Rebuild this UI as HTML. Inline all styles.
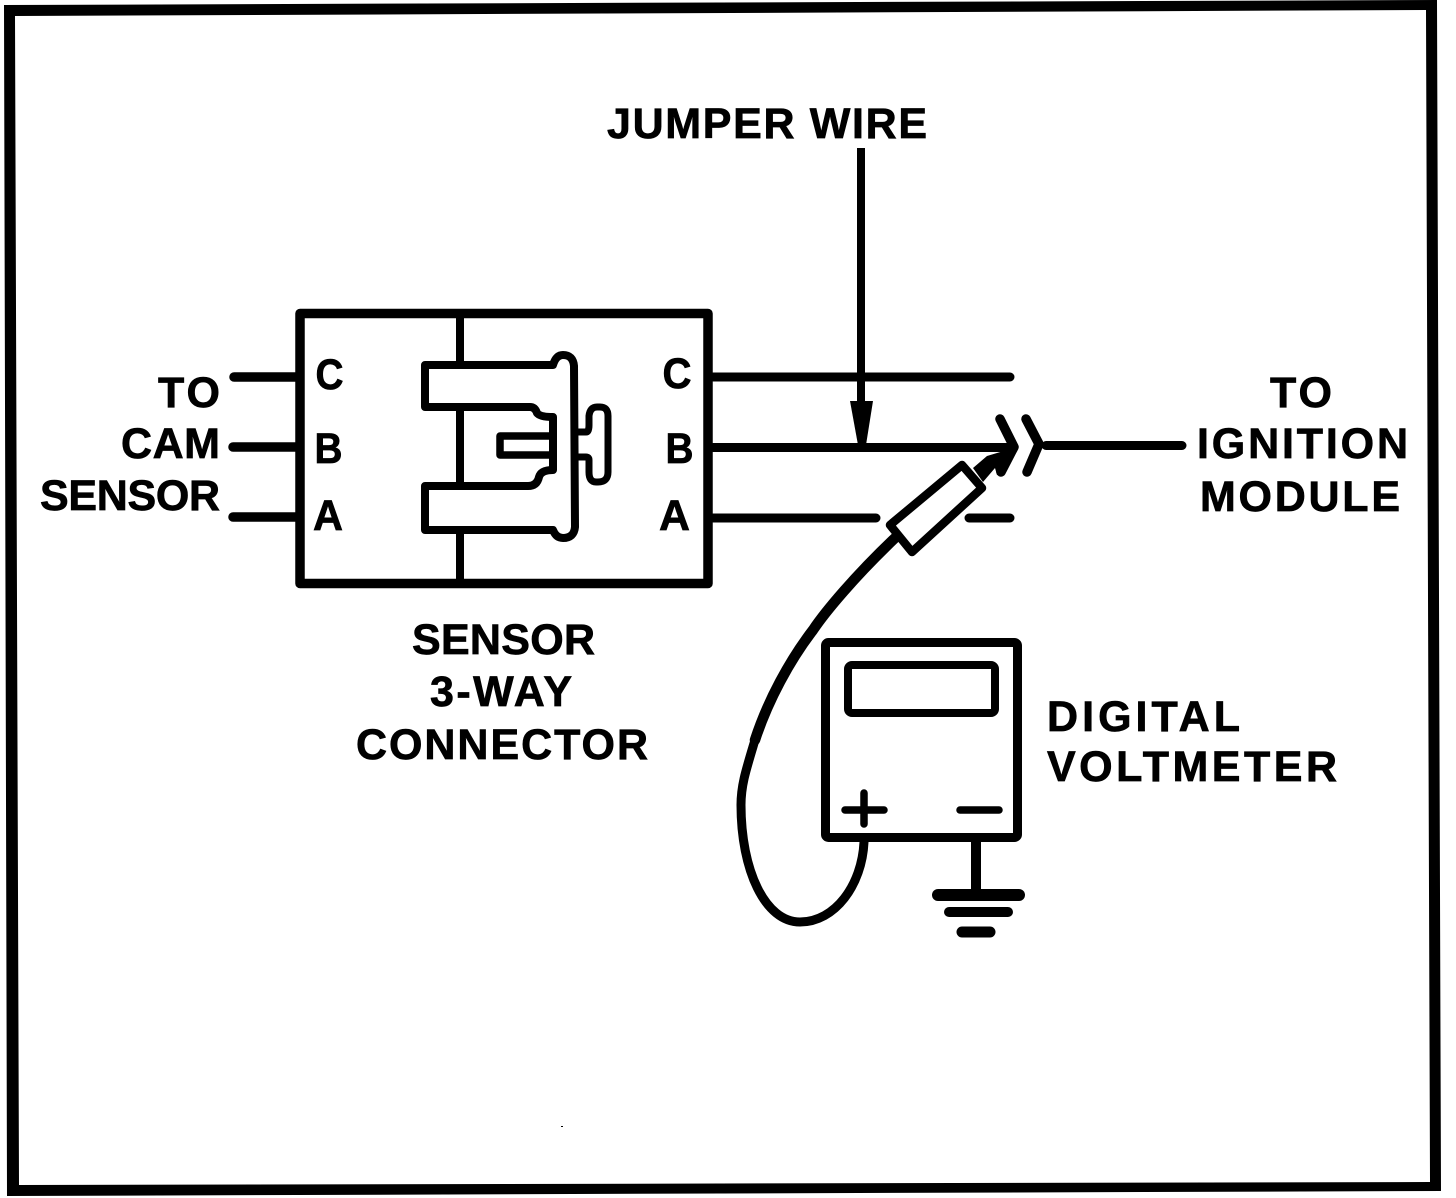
<!DOCTYPE html>
<html><head><meta charset="utf-8"><title>Sensor 3-way connector test</title>
<style>
html,body{margin:0;padding:0;background:#fff;width:1456px;height:1198px;overflow:hidden}
svg{display:block}
text{font-family:"Liberation Sans",sans-serif;font-weight:bold;fill:#000;font-size:43px;stroke:#000;stroke-width:.7px}
</style></head><body>
<svg width="1456" height="1198" viewBox="0 0 1456 1198" xmlns="http://www.w3.org/2000/svg">
<rect width="1456" height="1198" fill="#fff"/>
<path fill-rule="evenodd" d="M4,5 L1437,0 L1441,1191 L7,1196 Z M15,16 L19,1185 L1430,1182 L1426,10 Z" fill="#000"/>
<rect x="561" y="1126" width="2" height="1" fill="#000"/>

<g fill="none" stroke="#000" stroke-linejoin="round" stroke-linecap="round">
  <rect x="300" y="313.5" width="408" height="270" stroke-width="9.5"/>
  <path d="M460,318V361M460,410V482M460,534V579" stroke-width="8" stroke-linecap="butt"/>
  <path d="M425,365 H553 Q556,355 563,355 Q573,355 574,366 L575,527 Q574,538 563,538 Q556,538 553,530 H425 V486 H528 Q537,486 539,477 Q541,470 553,470 V417 Q540,417 537,413 Q535,407 530,407 H425 Z" stroke-width="8"/>
  <path d="M553,436 H500 V455 H553" stroke-width="7.5"/>
  <path d="M575,432 H586 Q589,432 589,425 V416 Q590,407 597,407 H600 Q608,407 608,416 V472 Q608,482 598,482 H596 Q589,482 589,472 V460 Q589,457 586,457 H575" stroke-width="7"/>

  <path d="M234,377H297M233,447H297M233,517H297" stroke-width="9.5"/>
  <path d="M713,377H1010M713,447.5H1012M713,518H876M969,518H1010M1046,445.5H1182" stroke-width="9"/>
  <path d="M861,148V405" stroke-width="8" stroke-linecap="butt"/>
  <path d="M1000,419 L1014,447 L1001,472" stroke-width="9.5"/>
  <path d="M1026,419 L1039,444 L1027,472" stroke-width="9.5"/>
  <path d="M962,465 L982,488 L912,552 L890,525 Z" stroke-width="8.5"/>
  <path d="M895,538 C855,576 825,612 813,630 C790,660 768,700 755,740" stroke-width="10.5"/>
  <path d="M755,740 C746,770 741,785 741,805 C741,870 765,922 800,922 C835,922 862,885 864,842" stroke-width="9"/>
  <rect x="825.5" y="642.5" width="192" height="195" rx="3" stroke-width="9"/>
  <rect x="848" y="665" width="147" height="48" rx="4" stroke-width="8"/>
  <path d="M845,810H884M864,793V824" stroke-width="7.5"/>
  <path d="M960,810H999" stroke-width="7.5"/>
  <path d="M976,842V892" stroke-width="10" stroke-linecap="butt"/>
  <path d="M938,895H1019" stroke-width="12"/>
  <path d="M949,912H1008" stroke-width="10"/>
  <path d="M962,932H990" stroke-width="11"/>
</g>
<polygon points="850,401 873,401 866,445 858,445" fill="#000"/>
<polygon points="987,456 1017,447 1007,470 997,475 995,468 983,482 973,468" fill="#000"/>

<text x="607" y="138" textLength="320" lengthAdjust="spacing">JUMPER WIRE</text>
<text x="158" y="407" textLength="62" lengthAdjust="spacing">TO</text>
<text x="121" y="458" textLength="99" lengthAdjust="spacing">CAM</text>
<text x="40" y="510" textLength="180" lengthAdjust="spacing">SENSOR</text>
<text x="315.5" y="389" textLength="28" lengthAdjust="spacingAndGlyphs">C</text>
<text x="314.5" y="463" textLength="28" lengthAdjust="spacingAndGlyphs">B</text>
<text x="313" y="530" textLength="30" lengthAdjust="spacingAndGlyphs">A</text>
<text x="662.5" y="388" textLength="29" lengthAdjust="spacingAndGlyphs">C</text>
<text x="665.5" y="463" textLength="28" lengthAdjust="spacingAndGlyphs">B</text>
<text x="659" y="530" textLength="31" lengthAdjust="spacingAndGlyphs">A</text>
<text x="1270" y="407" textLength="62" lengthAdjust="spacing">TO</text>
<text x="1197" y="458" textLength="211" lengthAdjust="spacing">IGNITION</text>
<text x="1200" y="511" textLength="200" lengthAdjust="spacing">MODULE</text>
<text x="412" y="654" textLength="183" lengthAdjust="spacing">SENSOR</text>
<text x="430" y="706" textLength="142" lengthAdjust="spacing">3-WAY</text>
<text x="356" y="759" textLength="292" lengthAdjust="spacing">CONNECTOR</text>
<text x="1047" y="731" textLength="193" lengthAdjust="spacing">DIGITAL</text>
<text x="1047" y="781" textLength="290" lengthAdjust="spacing">VOLTMETER</text>
</svg>
</body></html>
